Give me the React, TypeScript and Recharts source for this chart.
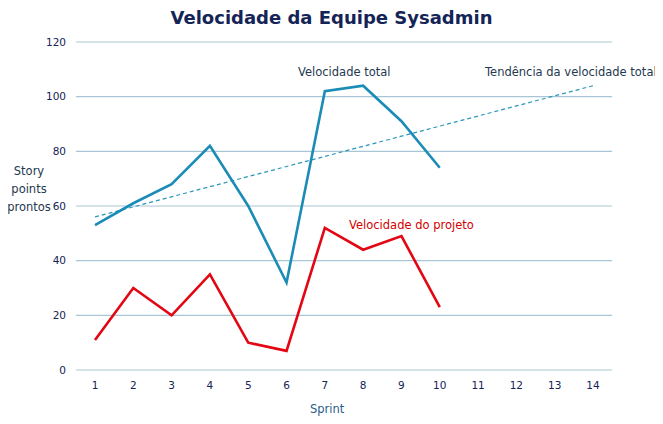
import { LineChart, Line, XAxis, YAxis, CartesianGrid } from 'recharts';

const sprints = ['1', '2', '3', '4', '5', '6', '7', '8', '9', '10', '11', '12', '13', '14'];
const velocidadeTotal = [53, 61, 68, 82, 60, 32, 102, 104, 91, 74, null, null, null, null];
const velocidadeProjeto = [11, 30, 20, 35, 10, 7, 52, 44, 49, 23, null, null, null, null];
const tendencia = [56, null, null, null, null, null, null, null, null, null, null, null, null, 104];
const yTicks = [0, 20, 40, 60, 80, 100, 120];

const data = sprints.map((s, i) => ({
  sprint: s,
  total: velocidadeTotal[i],
  projeto: velocidadeProjeto[i],
  tendencia: tendencia[i],
}));

const font = '"DejaVu Sans", Verdana, sans-serif';
const navy = '#142456';

export default function App() {
  return (
    <div style={{ margin: -8, position: 'relative', width: 663, height: 424, background: '#fff', fontFamily: font }}>
      <div style={{ position: 'absolute', left: 0, width: 663, top: 7, textAlign: 'center', fontSize: 18, fontWeight: 'bold', color: navy }}>
        Velocidade da Equipe Sysadmin
      </div>
      <LineChart width={663} height={424} data={data} margin={{ top: 42, right: 51, bottom: 24, left: 16 }}>
        <CartesianGrid vertical={false} stroke="#a9c6d6" strokeWidth={1.2} />
        <XAxis
          dataKey="sprint"
          height={30}
          axisLine={false}
          tickLine={false}
          tickSize={0}
          tickMargin={12}
          padding={{ left: 19, right: 19 }}
          tick={{ fill: navy, fontSize: 10.5, fontFamily: font }}
          interval={0}
        />
        <YAxis
          width={60}
          domain={[0, 120]}
          ticks={yTicks}
          axisLine={false}
          tickLine={false}
          tickSize={0}
          tickMargin={10}
          tick={{ fill: navy, fontSize: 10.5, fontFamily: font }}
        />
        <Line dataKey="tendencia" stroke="#2a96b8" strokeWidth={1.2} strokeDasharray="4 3" dot={false} connectNulls isAnimationActive={false} />
        <Line dataKey="total" stroke="#1a8cb6" strokeWidth={2.6} dot={false} isAnimationActive={false} />
        <Line dataKey="projeto" stroke="#e30613" strokeWidth={2.6} dot={false} isAnimationActive={false} />
      </LineChart>
      <div style={{ position: 'absolute', left: 298, top: 65, fontSize: 11.5, color: '#24384f', whiteSpace: 'nowrap' }}>Velocidade total</div>
      <div style={{ position: 'absolute', left: 485, top: 65, fontSize: 11.5, color: '#24384f', whiteSpace: 'nowrap' }}>Tendência da velocidade total</div>
      <div style={{ position: 'absolute', left: 349, top: 218, fontSize: 11.5, color: '#d40000', whiteSpace: 'nowrap' }}>Velocidade do projeto</div>
      <div style={{ position: 'absolute', left: 1, top: 162, width: 56, textAlign: 'center', fontSize: 11.5, lineHeight: '18px', color: '#24384f' }}>
        Story<br />points<br />prontos
      </div>
      <div style={{ position: 'absolute', left: 310, top: 402, fontSize: 11.5, color: '#2a5d8a' }}>Sprint</div>
    </div>
  );
}
